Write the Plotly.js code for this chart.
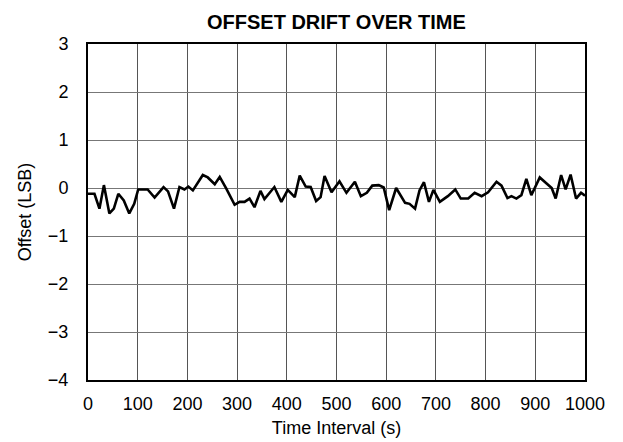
<!DOCTYPE html>
<html>
<head>
<meta charset="utf-8">
<script src="https://cdn.plot.ly/plotly-3.0.1.min.js"></script>
<style>html,body{margin:0;padding:0;background:#fff;}#chart{width:623px;height:442px;}</style>
</head>
<body>
<div id="chart"></div>
<script>
// Time (s) of each sample
const timeSeconds = [0, 13, 23, 32, 43, 52, 61, 72, 83, 93, 101, 120, 134, 152, 161, 173, 184, 194, 202, 211,
  231, 241, 255, 265, 278, 295, 305, 315, 325, 335, 347, 355, 375, 389, 402, 416, 426, 438, 448, 459,
  468, 476, 490, 506, 520, 537, 549, 561, 572, 585, 595, 606, 620, 629, 638, 647, 658, 667, 676, 686,
  695, 708, 724, 739, 750, 765, 778, 792, 805, 822, 832, 844, 852, 862, 872, 882, 892, 909, 922, 933,
  941, 952, 961, 971, 982, 992, 1000];
// Offset (LSB)
const offsetLSB = [-0.12, -0.12, -0.43, 0.06, -0.53, -0.43, -0.12, -0.26, -0.53, -0.33, -0.03, -0.03, -0.20, 0.02, -0.07, -0.43, 0.02, -0.03, 0.03, -0.05,
  0.27, 0.22, 0.08, 0.23, -0.01, -0.35, -0.29, -0.29, -0.22, -0.40, -0.06, -0.23, 0.02, -0.29, -0.04, -0.19, 0.26, 0.03, 0.02, -0.27,
  -0.19, 0.25, -0.09, 0.14, -0.10, 0.13, -0.17, -0.10, 0.05, 0.06, 0.01, -0.46, 0.0, -0.15, -0.31, -0.33, -0.43, -0.05, 0.12, -0.29,
  -0.04, -0.29, -0.17, -0.03, -0.22, -0.22, -0.10, -0.17, -0.09, 0.13, 0.05, -0.21, -0.17, -0.22, -0.15, 0.19, -0.15, 0.22, 0.09, 0.0,
  -0.22, 0.27, -0.03, 0.28, -0.22, -0.10, -0.16];

const xTicks = [0, 100, 200, 300, 400, 500, 600, 700, 800, 900, 1000];
const yTicks = [3, 2, 1, 0, -1, -2, -3, -4];

const fontFam = 'Liberation Sans, Arial, sans-serif';

Plotly.newPlot('chart', [{
  x: timeSeconds,
  y: offsetLSB,
  type: 'scatter',
  mode: 'lines',
  line: {color: '#000', width: 2.6},
  hoverinfo: 'skip'
}], {
  width: 623, height: 442,
  margin: {l: 88, r: 38, t: 44, b: 62},
  paper_bgcolor: '#fff', plot_bgcolor: '#fff',
  showlegend: false,
  title: {text: '<b>OFFSET DRIFT OVER TIME</b>', font: {family: fontFam, size: 20, color: '#000'},
          x: 0.54, xanchor: 'center', y: 0.95, yanchor: 'middle'},
  xaxis: {
    range: [0, 1000], tickvals: xTicks, ticktext: xTicks.map(String),
    showgrid: true, gridcolor: '#555', gridwidth: 1, zeroline: false,
    showline: true, linecolor: '#000', linewidth: 2, mirror: true,
    ticks: '', ticklabelstandoff: 6,
    tickfont: {family: fontFam, size: 18, color: '#000'},
    title: {text: 'Time Interval (s)', font: {family: fontFam, size: 18, color: '#000'}, standoff: 9}
  },
  yaxis: {
    range: [-4, 3], tickvals: yTicks,
    showgrid: true, gridcolor: '#777', gridwidth: 1, zeroline: false,
    showline: true, linecolor: '#000', linewidth: 2, mirror: true,
    ticks: '', ticklabelstandoff: 14,
    tickfont: {family: fontFam, size: 18, color: '#000'},
    title: {text: 'Offset (LSB)', font: {family: fontFam, size: 18, color: '#000'}, standoff: 12}
  }
}, {displayModeBar: false, staticPlot: true});
</script>
</body>
</html>
